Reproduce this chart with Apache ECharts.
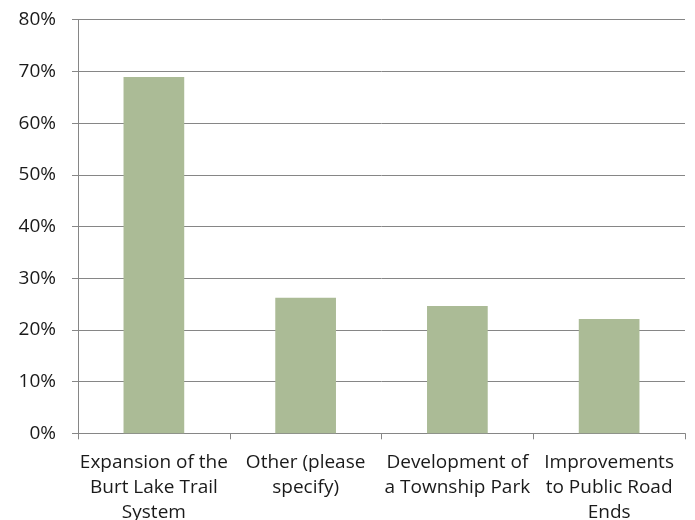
<!DOCTYPE html>
<html><head><meta charset="utf-8">
<script src="https://cdn.jsdelivr.net/npm/echarts@6/dist/echarts.min.js"></script>
<style>html,body{margin:0;padding:0;background:#fff}#c{width:695px;height:520px}</style>
</head><body><div id="c"></div>
<script>
var categories = ["Expansion of the\nBurt Lake Trail\nSystem", "Other (please\nspecify)", "Development of\na Township Park", "Improvements\nto Public Road\nEnds"];
var values = [68.9, 26.2, 24.6, 22.1];
var yTicks = [0, 10, 20, 30, 40, 50, 60, 70, 80];
var chart = echarts.init(document.getElementById('c'), null, {renderer: 'canvas'});
var font = '"Open Sans", "Noto Sans", sans-serif';
chart.setOption({
  animation: false,
  grid: {left: 78, right: 10, top: 19.7, bottom: 86.7, containLabel: false, outerBoundsMode: 'none'},
  xAxis: {
    type: 'category', data: categories,
    axisLine: {lineStyle: {color: '#868686', width: 1}},
    axisTick: {show: true, length: 6, alignWithLabel: false, lineStyle: {color: '#868686'}},
    axisLabel: {color: '#1a1a1a', fontSize: 19, fontFamily: font, lineHeight: 25, margin: 17, interval: 0}
  },
  yAxis: {
    type: 'value', min: yTicks[0], max: yTicks[yTicks.length - 1], interval: 10,
    axisLine: {show: true, lineStyle: {color: '#868686', width: 1}},
    axisTick: {show: true, length: 6, lineStyle: {color: '#868686'}},
    splitLine: {lineStyle: {color: '#868686', width: 1}},
    axisLabel: {color: '#1a1a1a', fontSize: 19, fontFamily: font, margin: 22, formatter: '{value}%'}
  },
  series: [{
    type: 'bar', data: values, barWidth: '40%',
    itemStyle: {color: '#ABBB96'}
  }]
});
</script></body></html>
